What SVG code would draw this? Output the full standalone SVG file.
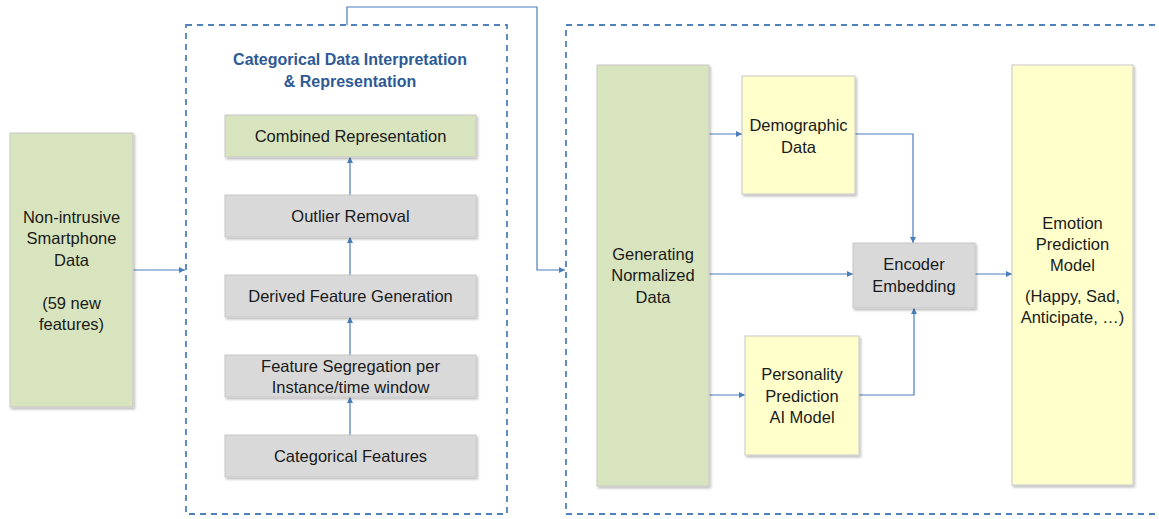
<svg xmlns="http://www.w3.org/2000/svg" width="1159" height="519" viewBox="0 0 1159 519">
  <defs>
    <marker id="arr" viewBox="0 0 10 10" refX="10" refY="5" markerWidth="6" markerHeight="6" markerUnits="userSpaceOnUse" orient="auto">
      <path d="M0,0 L10,5 L0,10 z" fill="#4A7EBB"/>
    </marker>
    <filter id="sh" x="-10%" y="-10%" width="130%" height="130%">
      <feDropShadow dx="1.5" dy="2" stdDeviation="1" flood-color="#000" flood-opacity="0.25"/>
    </filter>
  </defs>
  <style>
    .box { stroke: #C8C8C8; stroke-width: 1; filter: url(#sh); }
    .green { fill: #D7E4BD; }
    .grey { fill: #D9D9D9; }
    .yellow { fill: #FFFFCC; }
    .t { font-family: "Liberation Sans", Arial, sans-serif; font-size: 16.5px; fill: #1A1A1A; text-anchor: middle; }
    .title { font-family: "Liberation Sans", Arial, sans-serif; font-size: 16px; font-weight: bold; fill: #2E5A95; text-anchor: middle; }
    .dash { fill: none; stroke: #4F81BD; stroke-width: 1.8; stroke-dasharray: 6 5; }
    .conn { fill: none; stroke: #4A7EBB; stroke-width: 1.2; }
  </style>
  <rect width="1159" height="519" fill="#FFFFFF"/>

  <g id="containers">
    <rect class="dash" x="186" y="25" width="321" height="489"/>
    <rect class="dash" x="566" y="25" width="600" height="489"/>
    <text class="title" x="350" y="65">Categorical Data Interpretation</text>
    <text class="title" x="350" y="86.5">&amp; Representation</text>
  </g>

  <g id="connectors">
    <line class="conn" x1="133" y1="270" x2="185" y2="270" marker-end="url(#arr)"/>
    <polyline class="conn" points="347,25 347,7 537,7 537,270 565,270" marker-end="url(#arr)"/>
    <line class="conn" x1="350" y1="435" x2="350" y2="397" marker-end="url(#arr)"/>
    <line class="conn" x1="350" y1="355" x2="350" y2="317" marker-end="url(#arr)"/>
    <line class="conn" x1="350" y1="275" x2="350" y2="237" marker-end="url(#arr)"/>
    <line class="conn" x1="350" y1="195" x2="350" y2="157" marker-end="url(#arr)"/>
    <line class="conn" x1="709" y1="134" x2="742" y2="134" marker-end="url(#arr)"/>
    <line class="conn" x1="709" y1="274" x2="853" y2="274" marker-end="url(#arr)"/>
    <line class="conn" x1="709" y1="395" x2="745" y2="395" marker-end="url(#arr)"/>
    <polyline class="conn" points="855,134 913,134 913,243" marker-end="url(#arr)"/>
    <polyline class="conn" points="859,395 914,395 914,308" marker-end="url(#arr)"/>
    <line class="conn" x1="975" y1="274" x2="1012" y2="274" marker-end="url(#arr)"/>
  </g>

  <g id="smartphone-data">
    <rect class="box green" x="10" y="133" width="123" height="274"/>
    <text class="t" x="71.5" y="222.5">Non-intrusive</text>
    <text class="t" x="71.5" y="243.5">Smartphone</text>
    <text class="t" x="71.5" y="265.5">Data</text>
    <text class="t" x="71.5" y="308.5">(59 new</text>
    <text class="t" x="71.5" y="329.5">features)</text>
  </g>

  <g id="combined-representation">
    <rect class="box green" x="225" y="115" width="251" height="42"/>
    <text class="t" x="350.5" y="142">Combined Representation</text>
  </g>
  <g id="outlier-removal">
    <rect class="box grey" x="225" y="195" width="251" height="42"/>
    <text class="t" x="350.5" y="222">Outlier Removal</text>
  </g>
  <g id="derived-feature-generation">
    <rect class="box grey" x="225" y="275" width="251" height="42"/>
    <text class="t" x="350.5" y="302">Derived Feature Generation</text>
  </g>
  <g id="feature-segregation">
    <rect class="box grey" x="225" y="355" width="251" height="42"/>
    <text class="t" x="350.5" y="371.5">Feature Segregation per</text>
    <text class="t" x="350.5" y="392.5">Instance/time window</text>
  </g>
  <g id="categorical-features">
    <rect class="box grey" x="225" y="435" width="251" height="42"/>
    <text class="t" x="350.5" y="462">Categorical Features</text>
  </g>

  <g id="generating-normalized-data">
    <rect class="box green" x="597" y="65" width="112" height="421"/>
    <text class="t" x="653" y="260">Generating</text>
    <text class="t" x="653" y="281">Normalized</text>
    <text class="t" x="653" y="302.5">Data</text>
  </g>

  <g id="demographic-data">
    <rect class="box yellow" x="742" y="76" width="113" height="118"/>
    <text class="t" x="798.5" y="131">Demographic</text>
    <text class="t" x="798.5" y="152.5">Data</text>
  </g>

  <g id="encoder-embedding">
    <rect class="box grey" x="853" y="243" width="122" height="65"/>
    <text class="t" x="914" y="270">Encoder</text>
    <text class="t" x="914" y="291.5">Embedding</text>
  </g>

  <g id="personality-prediction">
    <rect class="box yellow" x="745" y="336" width="114" height="119"/>
    <text class="t" x="802" y="380">Personality</text>
    <text class="t" x="802" y="401.5">Prediction</text>
    <text class="t" x="802" y="423">AI Model</text>
  </g>

  <g id="emotion-prediction-model">
    <rect class="box yellow" x="1012" y="65" width="121" height="420"/>
    <text class="t" x="1072.5" y="229">Emotion</text>
    <text class="t" x="1072.5" y="250">Prediction</text>
    <text class="t" x="1072.5" y="271">Model</text>
    <text class="t" x="1072.5" y="302">(Happy, Sad,</text>
    <text class="t" x="1072.5" y="323">Anticipate, …)</text>
  </g>
</svg>
